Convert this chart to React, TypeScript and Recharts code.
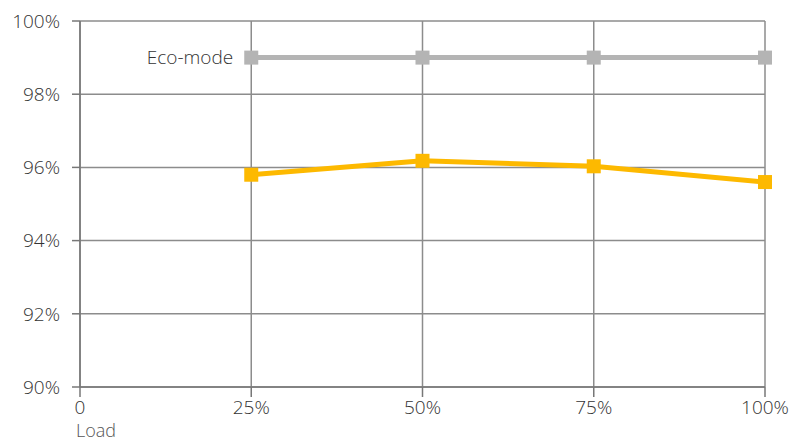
import React from "react";
import {
  LineChart,
  Line,
  XAxis,
  YAxis,
  CartesianGrid,
  LabelList,
} from "recharts";

const loads = [25, 50, 75, 100];
const ecoMode = [99, 99, 99, 99];
const normalMode = [95.8, 96.18, 96.03, 95.6];
const xTicks = [0, 25, 50, 75, 100];
const yTicks = [90, 92, 94, 96, 98, 100];

const data = loads.map((load, i) => ({
  load,
  eco: ecoMode[i],
  normal: normalMode[i],
}));

const font = "'Open Sans', 'Liberation Sans', sans-serif";

const SquareDot = (props: any) => {
  const { cx, cy, fill } = props;
  if (cx == null || cy == null) return null;
  return <rect x={cx - 7} y={cy - 7} width={14} height={14} fill={fill} />;
};

const EcoLabel = (props: any) => {
  const { x, y, index } = props;
  if (index !== 0) return null;
  return (
    <text
      x={x - 18}
      y={y}
      dy={6}
      textAnchor="end"
      fill="#333"
      fontSize={19}
      fontWeight={300}
      fontFamily={font}
    >
      Eco-mode
    </text>
  );
};

export default function App() {
  const tickStyle = { fill: "#333", fontSize: 19, fontWeight: 300, fontFamily: font };
  return (
    <div style={{ position: "absolute", left: 0, top: 0, width: 794, height: 441, background: "#fff" }}>
      <LineChart
        width={794}
        height={441}
        data={data}
        margin={{ top: 21, right: 29, bottom: 24, left: 0 }}
      >
        <CartesianGrid stroke="#8c8c8c" strokeWidth={1.5} />
        <XAxis
          dataKey="load"
          type="number"
          domain={[0, 100]}
          ticks={xTicks}
          tickFormatter={(v: number) => (v === 0 ? "0" : `${v}%`)}
          stroke="#777"
          strokeWidth={1.5}
          tickSize={10}
          tickMargin={4}
          height={30}
          tick={tickStyle}
        />
        <YAxis
          type="number"
          domain={[90, 100]}
          ticks={yTicks}
          tickFormatter={(v: number) => `${v}%`}
          stroke="#777"
          strokeWidth={1.5}
          tickSize={8}
          tickMargin={12}
          width={80}
          tick={tickStyle}
        />
        <Line
          dataKey="eco"
          type="linear"
          stroke="#b4b4b4"
          fill="#b4b4b4"
          strokeWidth={5}
          dot={<SquareDot />}
          activeDot={false}
          isAnimationActive={false}
        >
          <LabelList dataKey="eco" content={<EcoLabel />} />
        </Line>
        <Line
          dataKey="normal"
          type="linear"
          stroke="#fdb900"
          fill="#fdb900"
          strokeWidth={5}
          dot={<SquareDot />}
          activeDot={false}
          isAnimationActive={false}
        />
      </LineChart>
      <div
        style={{
          position: "absolute",
          left: 76,
          top: 420,
          fontFamily: font,
          fontWeight: 300,
          fontSize: 18,
          color: "#555",
          lineHeight: "20px",
        }}
      >
        Load
      </div>
    </div>
  );
}
